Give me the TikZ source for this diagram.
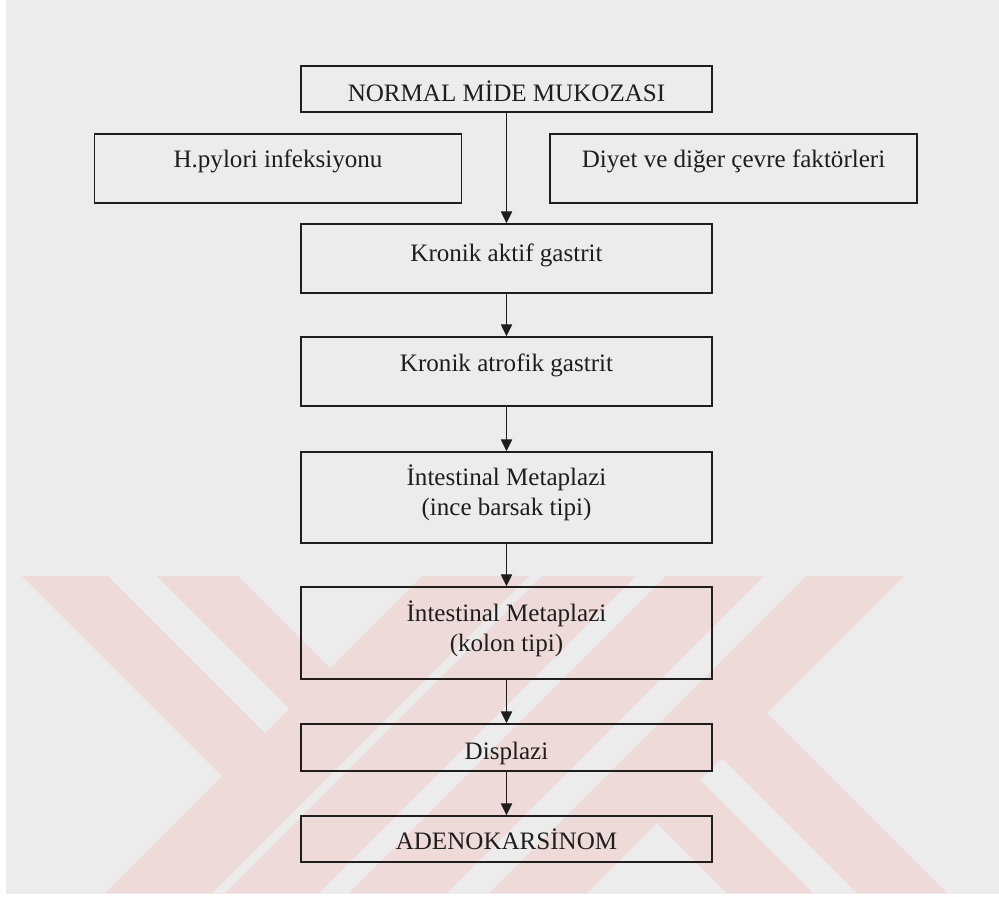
\documentclass[tikz,border=0pt]{standalone}
\usepackage{fontspec}
\setmainfont{Liberation Serif}
\usetikzlibrary{arrows.meta}
\definecolor{bggray}{RGB}{236,236,236}
\definecolor{wmpink}{RGB}{238,219,217}
\definecolor{inkgray}{RGB}{30,30,30}
\newcommand{\tablines}[2]{\begin{tabular}[t]{@{}c@{}}#1\\#2\end{tabular}}
\tikzset{
  stage/.style={draw=inkgray, line width=1.1pt, inner sep=0pt, minimum width=308.25pt, font=\fontsize{18.8}{22.5}\selectfont, text=inkgray},
  side/.style={stage, minimum width=275pt},
  tx/.style 2 args={text height=#1, text depth=#2},
  flow/.style={draw=inkgray, line width=1pt, -{Triangle[length=9pt,width=8.5pt]}}
}

\begin{document}
\begin{tikzpicture}[x=0.75pt,y=0.75pt,yscale=-1,xscale=1]
\useasboundingbox (0,0) rectangle (999,896);
\fill [white] (0,0) rectangle (999,896);
\fill [bggray] (6,0) rectangle (999,894);
% watermark
\fill [wmpink] (22,576) -- (108,576) -- (308,776) -- (222,776) -- cycle ;
\fill [wmpink] (157,576) -- (238,576) -- (373,711) -- (292,711) -- cycle ;
\fill [wmpink] (422,576) -- (529,576) -- (212,893) -- (105,893) -- cycle ;
\fill [wmpink] (542,576) -- (636,576) -- (319,893) -- (225,893) -- cycle ;
\fill [wmpink] (666,576) -- (764,576) -- (447,893) -- (349,893) -- cycle ;
\fill [wmpink] (806,576) -- (904,576) -- (587,893) -- (489,893) -- cycle ;
\fill [wmpink] (704,740) -- (754,700) -- (947,893) -- (857,893) -- cycle ;
\fill [wmpink] (634,800) -- (680,760) -- (813,893) -- (727,893) -- cycle ;

\node [stage, minimum height=34.5pt, tx={18.4pt}{0pt}] (normal) at (506.5,89) {NORMAL MİDE MUKOZASI};
\node [side, minimum height=51.75pt, tx={0pt}{1.8pt}] (hpylori) at (278,168.5) {H.pylori infeksiyonu};
\node [side, minimum height=51.75pt, tx={0pt}{1.8pt}] (diyet) at (733.5,168.5) {Diyet ve diğer çevre faktörleri};
\node [stage, minimum height=51.75pt, tx={4.2pt}{0pt}] (aktif) at (506.5,258.5) {Kronik aktif gastrit};
\node [stage, minimum height=51.75pt, tx={0pt}{0.4pt}] (atrofik) at (506.5,371.5) {Kronik atrofik gastrit};
\node [stage, minimum height=68.25pt, tx={0pt}{18.3pt}] (imince) at (506.5,497.5) {\tablines{İntestinal Metaplazi}{(ince barsak tipi)}};
\node [stage, minimum height=69pt, tx={0pt}{17.6pt}] (imkolon) at (506.5,633) {\tablines{İntestinal Metaplazi}{(kolon tipi)}};
\node [stage, minimum height=35.25pt, tx={17.6pt}{0pt}] (displazi) at (506.5,747.5) {Displazi};
\node [stage, minimum height=34.5pt, tx={15.4pt}{0pt}] (adeno) at (506.5,839) {ADENOKARSİNOM};

\draw [flow] (normal) -- (aktif);
\draw [flow] (aktif) -- (atrofik);
\draw [flow] (atrofik) -- (imince);
\draw [flow] (imince) -- (imkolon);
\draw [flow] (imkolon) -- (displazi);
\draw [flow] (displazi) -- (adeno);

\end{tikzpicture}
\end{document}
